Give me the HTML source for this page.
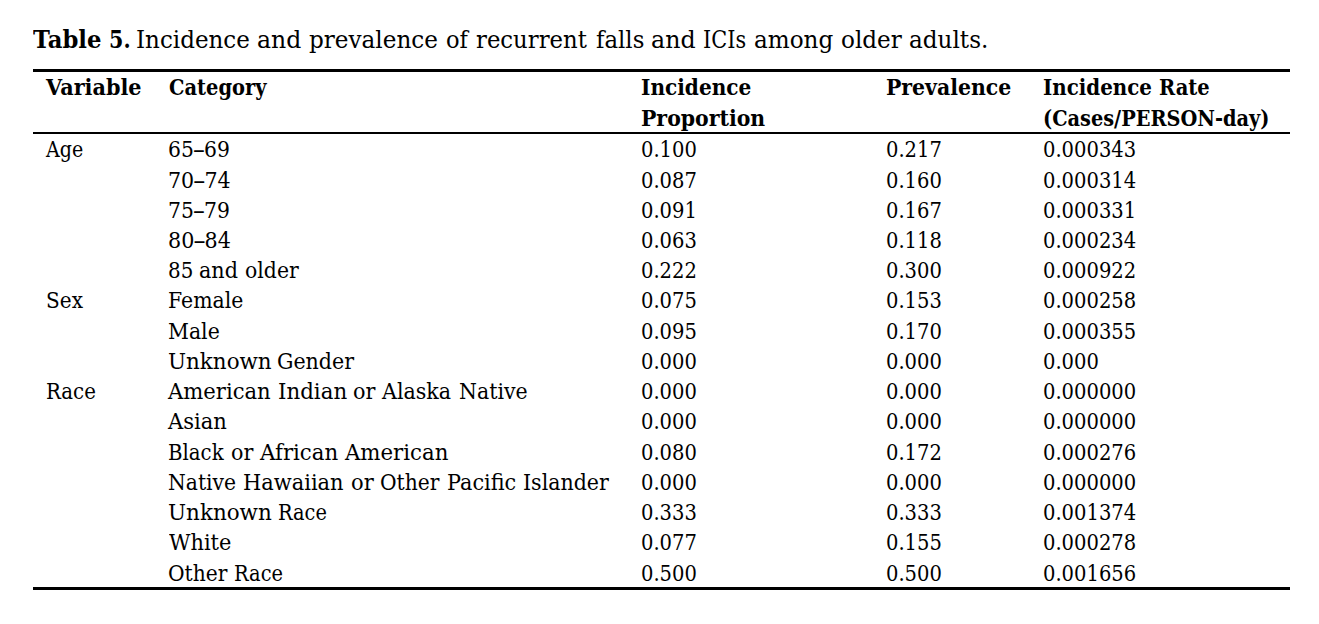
<!DOCTYPE html>
<html lang="en"><head><meta charset="utf-8"><title>Table 5</title>
<style>
html,body{margin:0;padding:0;background:#fff}
body{width:1319px;height:624px;position:relative;overflow:hidden;font-family:'DejaVu Serif', 'Liberation Serif', serif;color:#000}
.t,.b,.h,.tb{position:absolute;white-space:pre;line-height:29px;transform-origin:0 0}
.t,.tb{font-size:24.5px}
.b,.h{font-size:22px}
.tb,.h{font-weight:bold}
.r{position:absolute;background:#000;left:33px;width:1257px}
</style></head>
<body>
<div class="r" style="top:69px;height:3px"></div>
<div class="r" style="top:132px;height:2px"></div>
<div class="r" style="top:587px;height:3px"></div>
<span class="tb" style="left:33.00px;top:25px;transform:scaleX(0.9274)">Table</span>
<span class="tb" style="left:109.16px;top:25px;transform:scaleX(0.8435)">5.</span>
<span class="t" style="left:136.06px;top:25px;transform:scaleX(0.9396)">Incidence</span>
<span class="t" style="left:257.24px;top:25px;transform:scaleX(0.9622)">and</span>
<span class="t" style="left:309.20px;top:25px;transform:scaleX(0.9434)">prevalence</span>
<span class="t" style="left:446.33px;top:25px;transform:scaleX(0.9200)">of</span>
<span class="t" style="left:476.25px;top:25px;transform:scaleX(0.9292)">recurrent</span>
<span class="t" style="left:596.00px;top:25px;transform:scaleX(0.9314)">falls</span>
<span class="t" style="left:650.93px;top:25px;transform:scaleX(0.9689)">and</span>
<span class="t" style="left:703.15px;top:25px;transform:scaleX(0.8510)">ICIs</span>
<span class="t" style="left:754.36px;top:25px;transform:scaleX(0.9434)">among</span>
<span class="t" style="left:840.96px;top:25px;transform:scaleX(0.9437)">older</span>
<span class="t" style="left:909.06px;top:25px;transform:scaleX(0.9432)">adults.</span>
<span class="h" style="left:46.25px;top:73px;transform:scaleX(0.9441)">Variable</span>
<span class="h" style="left:168.75px;top:73px;transform:scaleX(0.8829)">Category</span>
<span class="h" style="left:641.09px;top:73px;transform:scaleX(0.9126)">Incidence</span>
<span class="h" style="left:641.07px;top:104px;transform:scaleX(0.9293)">Proportion</span>
<span class="h" style="left:886.07px;top:73px;transform:scaleX(0.9284)">Prevalence</span>
<span class="h" style="left:1043.10px;top:73px;transform:scaleX(0.9017)">Incidence</span>
<span class="h" style="left:1158.61px;top:73px;transform:scaleX(0.8857)">Rate</span>
<span class="h" style="left:1043.37px;top:104px;transform:scaleX(0.8786)">(Cases/PERSON-day)</span>
<span class="b" style="left:46.00px;top:135px;transform:scaleX(0.8663)">Age</span>
<span class="b" style="left:45.59px;top:286px;transform:scaleX(0.9125)">Sex</span>
<span class="b" style="left:45.60px;top:377px;transform:scaleX(0.8981)">Race</span>
<span class="b" style="left:167.83px;top:135px;transform:scaleX(0.9231)">65<b style="display:inline-block;transform-origin:50% 17.3px;transform:scale(1.22,.65)">–</b>69</span>
<span class="b" style="left:167.82px;top:166px;transform:scaleX(0.9346)">70<b style="display:inline-block;transform-origin:50% 17.3px;transform:scale(1.22,.65)">–</b>74</span>
<span class="b" style="left:167.83px;top:196px;transform:scaleX(0.9231)">75<b style="display:inline-block;transform-origin:50% 17.3px;transform:scale(1.22,.65)">–</b>79</span>
<span class="b" style="left:167.56px;top:226px;transform:scaleX(0.9385)">80<b style="display:inline-block;transform-origin:50% 17.3px;transform:scale(1.22,.65)">–</b>84</span>
<span class="b" style="left:167.60px;top:256px;transform:scaleX(0.9038)">85</span>
<span class="b" style="left:199.16px;top:256px;transform:scaleX(0.9425)">and</span>
<span class="b" style="left:244.97px;top:256px;transform:scaleX(0.9276)">older</span>
<span class="b" style="left:167.92px;top:286px;transform:scaleX(0.9288)">Female</span>
<span class="b" style="left:167.92px;top:317px;transform:scaleX(0.9287)">Male</span>
<span class="b" style="left:168.43px;top:347px;transform:scaleX(0.9738)">Unknown</span>
<span class="b" style="left:277.06px;top:347px;transform:scaleX(0.9354)">Gender</span>
<span class="b" style="left:168.10px;top:377px;transform:scaleX(0.9607)">American</span>
<span class="b" style="left:277.53px;top:377px;transform:scaleX(0.9700)">Indian</span>
<span class="b" style="left:352.96px;top:377px;transform:scaleX(0.9435)">or</span>
<span class="b" style="left:382.15px;top:377px;transform:scaleX(0.9365)">Alaska</span>
<span class="b" style="left:458.87px;top:377px;transform:scaleX(0.9319)">Native</span>
<span class="b" style="left:168.10px;top:407px;transform:scaleX(0.9574)">Asian</span>
<span class="b" style="left:168.40px;top:438px;transform:scaleX(0.8976)">Black</span>
<span class="b" style="left:230.96px;top:438px;transform:scaleX(0.9391)">or</span>
<span class="b" style="left:259.80px;top:438px;transform:scaleX(0.9679)">African</span>
<span class="b" style="left:345.20px;top:438px;transform:scaleX(0.9664)">American</span>
<span class="b" style="left:168.38px;top:468px;transform:scaleX(0.9236)">Native</span>
<span class="b" style="left:243.45px;top:468px;transform:scaleX(0.9524)">Hawaiian</span>
<span class="b" style="left:351.04px;top:468px;transform:scaleX(0.9565)">or</span>
<span class="b" style="left:380.08px;top:468px;transform:scaleX(0.9203)">Other</span>
<span class="b" style="left:447.06px;top:468px;transform:scaleX(0.9444)">Pacific</span>
<span class="b" style="left:522.77px;top:468px;transform:scaleX(0.9337)">Islander</span>
<span class="b" style="left:168.33px;top:498px;transform:scaleX(0.9748)">Unknown</span>
<span class="b" style="left:277.62px;top:498px;transform:scaleX(0.8796)">Race</span>
<span class="b" style="left:169.30px;top:528px;transform:scaleX(0.9492)">White</span>
<span class="b" style="left:168.28px;top:559px;transform:scaleX(0.9188)">Other</span>
<span class="b" style="left:234.42px;top:559px;transform:scaleX(0.8833)">Race</span>
<span class="b" style="left:640.81px;top:135px;transform:scaleX(0.8873)">0.100</span>
<span class="b" style="left:886.11px;top:135px;transform:scaleX(0.8873)">0.217</span>
<span class="b" style="left:1043.11px;top:135px;transform:scaleX(0.8873)">0.000343</span>
<span class="b" style="left:640.81px;top:166px;transform:scaleX(0.8873)">0.087</span>
<span class="b" style="left:886.11px;top:166px;transform:scaleX(0.8873)">0.160</span>
<span class="b" style="left:1043.11px;top:166px;transform:scaleX(0.8873)">0.000314</span>
<span class="b" style="left:640.81px;top:196px;transform:scaleX(0.8873)">0.091</span>
<span class="b" style="left:886.11px;top:196px;transform:scaleX(0.8873)">0.167</span>
<span class="b" style="left:1043.11px;top:196px;transform:scaleX(0.8873)">0.000331</span>
<span class="b" style="left:640.81px;top:226px;transform:scaleX(0.8873)">0.063</span>
<span class="b" style="left:886.11px;top:226px;transform:scaleX(0.8873)">0.118</span>
<span class="b" style="left:1043.11px;top:226px;transform:scaleX(0.8873)">0.000234</span>
<span class="b" style="left:640.81px;top:256px;transform:scaleX(0.8873)">0.222</span>
<span class="b" style="left:886.11px;top:256px;transform:scaleX(0.8873)">0.300</span>
<span class="b" style="left:1043.11px;top:256px;transform:scaleX(0.8873)">0.000922</span>
<span class="b" style="left:640.81px;top:286px;transform:scaleX(0.8873)">0.075</span>
<span class="b" style="left:886.11px;top:286px;transform:scaleX(0.8873)">0.153</span>
<span class="b" style="left:1043.11px;top:286px;transform:scaleX(0.8873)">0.000258</span>
<span class="b" style="left:640.81px;top:317px;transform:scaleX(0.8873)">0.095</span>
<span class="b" style="left:886.11px;top:317px;transform:scaleX(0.8873)">0.170</span>
<span class="b" style="left:1043.11px;top:317px;transform:scaleX(0.8873)">0.000355</span>
<span class="b" style="left:640.81px;top:347px;transform:scaleX(0.8873)">0.000</span>
<span class="b" style="left:886.11px;top:347px;transform:scaleX(0.8873)">0.000</span>
<span class="b" style="left:1043.11px;top:347px;transform:scaleX(0.8873)">0.000</span>
<span class="b" style="left:640.81px;top:377px;transform:scaleX(0.8873)">0.000</span>
<span class="b" style="left:886.11px;top:377px;transform:scaleX(0.8873)">0.000</span>
<span class="b" style="left:1043.11px;top:377px;transform:scaleX(0.8873)">0.000000</span>
<span class="b" style="left:640.81px;top:407px;transform:scaleX(0.8873)">0.000</span>
<span class="b" style="left:886.11px;top:407px;transform:scaleX(0.8873)">0.000</span>
<span class="b" style="left:1043.11px;top:407px;transform:scaleX(0.8873)">0.000000</span>
<span class="b" style="left:640.81px;top:438px;transform:scaleX(0.8873)">0.080</span>
<span class="b" style="left:886.11px;top:438px;transform:scaleX(0.8873)">0.172</span>
<span class="b" style="left:1043.11px;top:438px;transform:scaleX(0.8873)">0.000276</span>
<span class="b" style="left:640.81px;top:468px;transform:scaleX(0.8873)">0.000</span>
<span class="b" style="left:886.11px;top:468px;transform:scaleX(0.8873)">0.000</span>
<span class="b" style="left:1043.11px;top:468px;transform:scaleX(0.8873)">0.000000</span>
<span class="b" style="left:640.81px;top:498px;transform:scaleX(0.8873)">0.333</span>
<span class="b" style="left:886.11px;top:498px;transform:scaleX(0.8873)">0.333</span>
<span class="b" style="left:1043.11px;top:498px;transform:scaleX(0.8873)">0.001374</span>
<span class="b" style="left:640.81px;top:528px;transform:scaleX(0.8873)">0.077</span>
<span class="b" style="left:886.11px;top:528px;transform:scaleX(0.8873)">0.155</span>
<span class="b" style="left:1043.11px;top:528px;transform:scaleX(0.8873)">0.000278</span>
<span class="b" style="left:640.81px;top:559px;transform:scaleX(0.8873)">0.500</span>
<span class="b" style="left:886.11px;top:559px;transform:scaleX(0.8873)">0.500</span>
<span class="b" style="left:1043.11px;top:559px;transform:scaleX(0.8873)">0.001656</span>
</body></html>
